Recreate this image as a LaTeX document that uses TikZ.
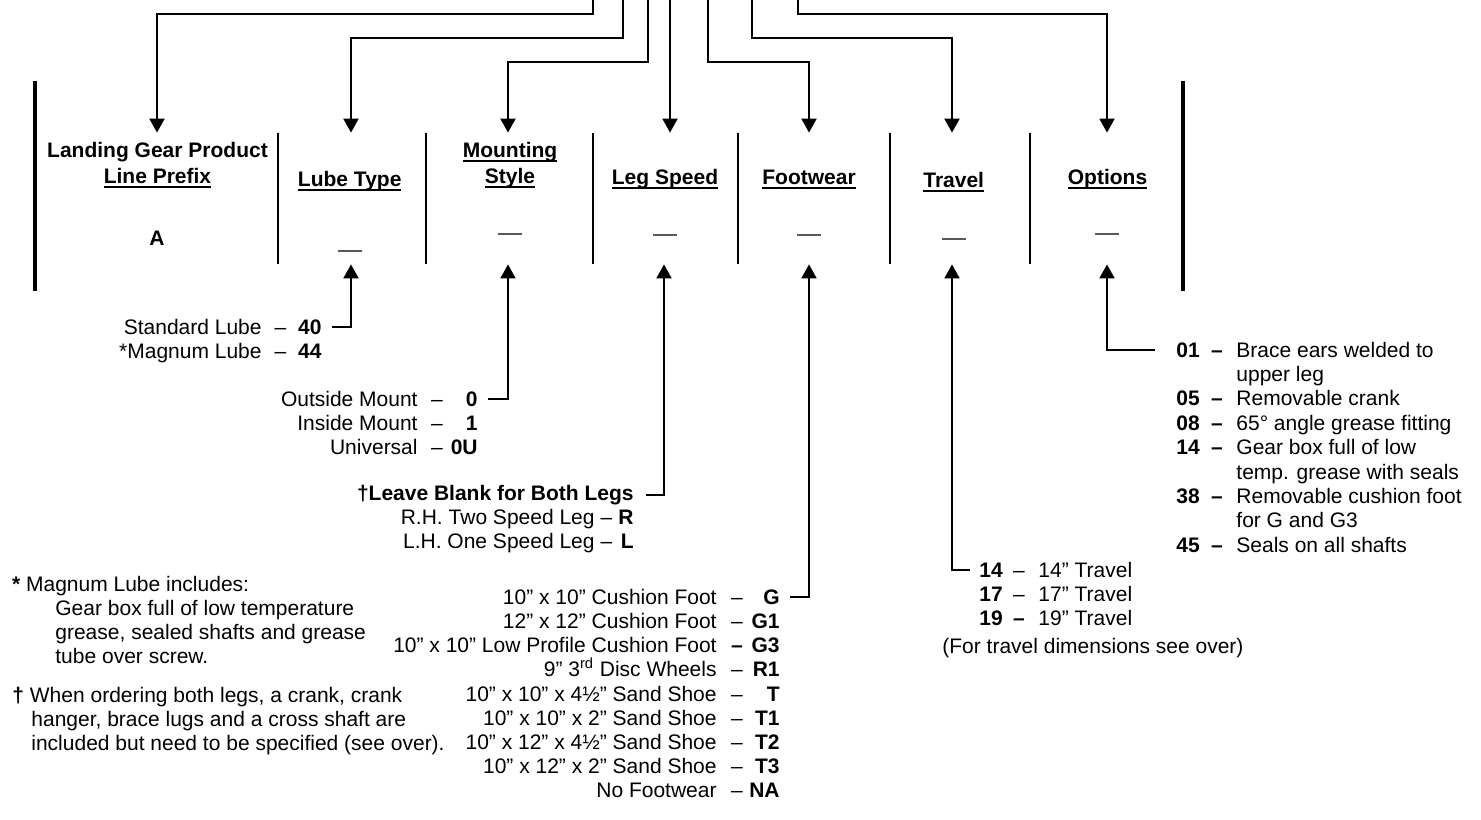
\documentclass[tikz,border=0pt]{standalone}
\usepackage{fontspec}
\setmainfont{Liberation Sans}
\usetikzlibrary{arrows.meta}

\newcommand{\sz}{\fontsize{10.5pt}{12pt}\selectfont}
\newsavebox{\ulbox}
\newcommand{\ulined}[1]{\sbox{\ulbox}{#1}\rlap{\rule[-2.4pt]{\wd\ulbox}{1.1pt}}\usebox{\ulbox}}

\tikzset{
  arr/.style={line width=1pt, -{Triangle[length=7pt,width=7.5pt]}},
  col/.style={inner sep=0pt, minimum width=1pt, minimum height=65.5pt},
  txt/.style={inner sep=0pt, anchor=base},
  desc/.style={inner sep=0pt, anchor=base east},
  code/.style={inner sep=0pt, anchor=base east, font=\sz\bfseries},
  lcode/.style={inner sep=0pt, anchor=base west, font=\sz\bfseries},
  ldesc/.style={inner sep=0pt, anchor=base west},
  slot/.style={inner sep=0pt, minimum width=12pt, minimum height=0.6pt, fill=black!65},
}

\begin{document}
\begin{tikzpicture}[x=0.5pt, y=-0.5pt, font=\sz]
  \useasboundingbox (0,0) rectangle (1481,819);
  % code boxes, dividers and end bars
  \foreach \n/\x in {prefix/157, lube/351, mount/508, legs/664, foot/809, travel/952, opts/1107}
    \node[col] (\n) at (\x,198.5) {};
  \foreach \x in {277.7, 426.3, 592.7, 737.7, 890, 1030}
    \draw[line width=0.9pt] (\x,133) -- (\x,264);
  \foreach \x in {35, 1183.3}
    \draw[line width=2pt] (\x,80.7) -- (\x,291);
  % headings and blanks
  \node[txt] (prefix-a) at (157.5,157) {\bfseries Landing Gear Product};
  \node[txt] (prefix-b) at (157.5,183) {\bfseries\ulined{Line Prefix}};
  \node[txt] (prefix-c) at (157,245) {\bfseries A};
  \node[txt] (mount-a) at (510,157) {\bfseries\ulined{Mounting}};
  \node[txt] (mount-b) at (510,183) {\bfseries\ulined{Style}};
  \foreach \n/\x/\y/\t in {lube/349.7/186/Lube Type, legs/665/184/Leg Speed, foot/809/184/Footwear, travel/953.7/187/Travel, opts/1107.5/184/Options}
    \node[txt] (\n-a) at (\x,\y) {\bfseries\ulined{\t}};
  \foreach \n/\x/\y in {lube/349.5/251, mount/510/234, legs/665/235, foot/809/235, travel/953.5/239, opts/1107/234}
    \node[slot] (\n-s) at (\x,\y) {};
  % feeds from the top
  \foreach \n/\x/\y in {prefix/593/14, lube/623/38, mount/648/62, foot/708/62, travel/752/38, opts/798/14}{
    \coordinate (\n-in) at (\x,0);
    \draw[arr] (\n-in) -- ++(0,\y) -| (\n.north);}
  \coordinate (legs-in) at (670,0);
  \draw[arr] (legs-in) -- (legs-in |- legs.north);
  % lube type
  \foreach \i/\y/\d/\c in {1/334/Standard Lube/40, 2/358/*Magnum Lube/44}{
    \node[desc] (lube-d\i) at (262,\y) {\d};
    \node[txt] (lube-m\i) at (280.5,\y) {–};
    \node[code] (lube-c\i) at (322,\y) {\c};}
  \draw[arr] ([xshift=5pt]lube-c1.east) -| (lube.south);
  % mounting style
  \foreach \i/\y/\d/\c in {1/406/Outside Mount/0, 2/430/Inside Mount/1, 3/454/Universal/0U}{
    \node[desc] (mount-d\i) at (418,\y) {\d};
    \node[txt] (mount-m\i) at (437,\y) {–};
    \node[code] (mount-c\i) at (478,\y) {\c};}
  \draw[arr] ([xshift=5pt]mount-c1.east) -| (mount.south);
  % leg speed
  \node[desc, font=\sz\bfseries] (legs-d0) at (634,500) {†Leave Blank for Both Legs};
  \foreach \i/\y/\d/\c in {1/524/R.H. Two Speed Leg/R, 2/548/L.H. One Speed Leg/L}{
    \node[desc] (legs-d\i) at (595,\y) {\d};
    \node[txt] (legs-m\i) at (606.5,\y) {–};
    \node[code] (legs-c\i) at (634,\y) {\c};}
  \draw[arr] ([xshift=6pt]legs-d0.east) -| (legs.south);
  % footwear
  \foreach \i/\y/\d/\m/\c in {1/604/10” x 10” Cushion Foot/–/G, 2/628/12” x 12” Cushion Foot/–/G1,
      3/652/10” x 10” Low Profile Cushion Foot/\bfseries –/G3, 4/676/9” 3\textsuperscript{rd} Disc Wheels/–/R1,
      5/701/10” x 10” x 4½” Sand Shoe/–/T, 6/725/10” x 10” x 2” Sand Shoe/–/T1,
      7/749/10” x 12” x 4½” Sand Shoe/–/T2, 8/773/10” x 12” x 2” Sand Shoe/–/T3, 9/797/No Footwear/–/NA}{
    \node[desc] (foot-d\i) at (717,\y) {\d};
    \node[txt] (foot-m\i) at (737,\y) {\m};
    \node[code] (foot-c\i) at (780,\y) {\c};}
  \draw[arr] ([xshift=5pt]foot-c1.east) -| (foot.south);
  % travel
  \foreach \i/\y/\c/\m/\d in {1/577/14/–/14” Travel, 2/601/17/–/17” Travel, 3/625/19/\bfseries –/19” Travel}{
    \node[lcode] (travel-c\i) at (979,\y) {\c};
    \node[txt] (travel-m\i) at (1019,\y) {\m};
    \node[ldesc] (travel-d\i) at (1038,\y) {\d};}
  \node[ldesc] (travel-note) at (942,653) {(For travel dimensions see over)};
  \draw[arr] ([xshift=-4.5pt]travel-c1.west) -| (travel.south);
  % options
  \foreach \r/\c in {0/01, 2/05, 3/08, 4/14, 6/38, 8/45}{
    \pgfmathsetmacro\yy{357+24.4*\r}
    \node[lcode] (opts-c\r) at (1176,\yy) {\c};
    \node[txt, font=\sz\bfseries] (opts-m\r) at (1217,\yy) {–};}
  \foreach \r/\d in {0/Brace ears welded to, 1/upper leg, 2/Removable crank, 3/65° angle grease fitting,
      4/Gear box full of low, 5/temp. grease with seals, 6/Removable cushion foot, 7/for G and G3, 8/Seals on all shafts}{
    \pgfmathsetmacro\yy{357+24.4*\r}
    \node[ldesc] (opts-d\r) at (1236,\yy) {\d};}
  \draw[arr] ([xshift=-10.5pt]opts-c0.west) -| (opts.south);
  % footnotes
  \node[ldesc] (note-a1) at (11.7,591) {\textbf{*} Magnum Lube includes:};
  \node[ldesc] (note-a2) at (55,615) {Gear box full of low temperature};
  \node[ldesc] (note-a3) at (55,639) {grease, sealed shafts and grease};
  \node[ldesc] (note-a4) at (55,663) {tube over screw.};
  \node[ldesc] (note-b1) at (12,702) {\textbf{†} When ordering both legs, a crank, crank};
  \node[ldesc] (note-b2) at (31,726) {hanger, brace lugs and a cross shaft are};
  \node[ldesc] (note-b3) at (31,750) {included but need to be specified (see over).};
\end{tikzpicture}
\end{document}
